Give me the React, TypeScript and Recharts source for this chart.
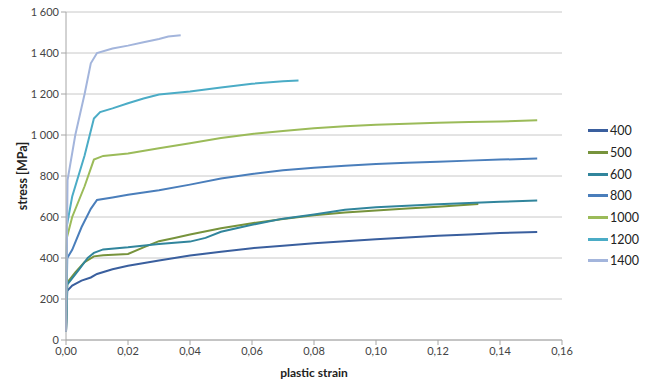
import { LineChart, Line, XAxis, YAxis, CartesianGrid } from 'recharts'

// strain values (x) and stress values in MPa (y) per temperature series
const strain400 = [0, 0.0004, 0.002, 0.005, 0.008, 0.01, 0.015, 0.02, 0.03, 0.04, 0.05, 0.06, 0.07, 0.08, 0.09, 0.1, 0.11, 0.12, 0.13, 0.14, 0.152]
const stress400 = [40, 240, 265, 290, 305, 322, 345, 362, 388, 412, 430, 448, 460, 472, 482, 492, 500, 508, 515, 522, 527]

const strain500 = [0, 0.0004, 0.003, 0.006, 0.009, 0.012, 0.02, 0.025, 0.03, 0.035, 0.04, 0.05, 0.06, 0.07, 0.08, 0.09, 0.1, 0.11, 0.12, 0.133]
const stress500 = [40, 280, 330, 380, 408, 413, 420, 452, 482, 498, 515, 545, 570, 590, 608, 622, 632, 642, 650, 663]

const strain600 = [0, 0.0004, 0.004, 0.007, 0.009, 0.012, 0.02, 0.03, 0.04, 0.045, 0.05, 0.06, 0.07, 0.08, 0.09, 0.1, 0.11, 0.12, 0.13, 0.14, 0.152]
const stress600 = [40, 270, 340, 400, 425, 442, 452, 468, 480, 498, 528, 562, 592, 612, 635, 648, 655, 662, 668, 674, 680]

const strain800 = [0, 0.0004, 0.002, 0.005, 0.008, 0.01, 0.015, 0.02, 0.03, 0.04, 0.05, 0.06, 0.07, 0.08, 0.09, 0.1, 0.11, 0.12, 0.13, 0.14, 0.152]
const stress800 = [40, 400, 440, 550, 640, 683, 695, 708, 730, 758, 788, 810, 828, 840, 850, 858, 865, 870, 875, 880, 885]

const strain1000 = [0, 0.0003, 0.002, 0.006, 0.009, 0.012, 0.02, 0.03, 0.04, 0.05, 0.06, 0.07, 0.08, 0.09, 0.1, 0.11, 0.12, 0.13, 0.14, 0.152]
const stress1000 = [40, 500, 600, 750, 880, 898, 910, 935, 960, 985, 1005, 1020, 1033, 1043, 1050, 1055, 1060, 1063, 1066, 1072]

const strain1200 = [0, 0.0003, 0.002, 0.006, 0.009, 0.011, 0.015, 0.02, 0.025, 0.03, 0.04, 0.05, 0.06, 0.07, 0.075]
const stress1200 = [40, 560, 700, 900, 1080, 1112, 1130, 1155, 1178, 1198, 1212, 1232, 1250, 1262, 1266]

const strain1400 = [0, 0.0005, 0.003, 0.006, 0.008, 0.01, 0.015, 0.02, 0.025, 0.03, 0.033, 0.037]
const stress1400 = [40, 780, 1000, 1200, 1350, 1400, 1422, 1436, 1452, 1468, 1480, 1486]

const seriesNames = ['400', '500', '600', '800', '1000', '1200', '1400']
const seriesColors = ['#3A5F9E', '#77933C', '#31859C', '#4A7EBB', '#9BBB59', '#4BACC6', '#A3B5DC']
const strains = [strain400, strain500, strain600, strain800, strain1000, strain1200, strain1400]
const stresses = [stress400, stress500, stress600, stress800, stress1000, stress1200, stress1400]

const xTicks = [0, 0.02, 0.04, 0.06, 0.08, 0.1, 0.12, 0.14, 0.16]
const yTicks = [0, 200, 400, 600, 800, 1000, 1200, 1400, 1600]

const series = seriesNames.map((name, i) => ({
  name,
  color: seriesColors[i],
  data: strains[i].map((x, j) => ({ x, y: stresses[i][j] })),
}))

const font = 'Lato, "Open Sans", sans-serif'

const fmtX = (v: number) => v.toFixed(2).replace('.', ',')
const fmtY = (v: number) =>
  v >= 1000 ? `${Math.floor(v / 1000)} ${String(v % 1000).padStart(3, '0')}` : String(v)

// rotated y-axis title, centred on the plot height
function YTitle({ viewBox }: any) {
  const cx = 22
  const cy = viewBox.y + viewBox.height / 2
  return (
    <text
      x={cx}
      y={cy}
      transform={`rotate(-90, ${cx}, ${cy})`}
      textAnchor="middle"
      dominantBaseline="central"
      fontSize={12.5}
      fontWeight="bold"
      fill="#222"
      fontFamily={font}
    >
      stress [MPa]
    </text>
  )
}

export default function App() {
  return (
    <div style={{ position: 'absolute', left: 0, top: 0, width: 647, height: 392, background: '#fff' }}>
      <LineChart width={647} height={392} margin={{ top: 12, right: 85, bottom: 22, left: 16 }}>
        <CartesianGrid vertical={false} stroke="#C8C8C8" />
        <XAxis
          type="number"
          dataKey="x"
          domain={[0, 0.16]}
          ticks={xTicks}
          tickFormatter={fmtX}
          height={30}
          stroke="#A6A6A6"
          tickSize={5}
          tick={{ fontSize: 11, fill: '#444', fontFamily: font }}
          label={{ value: 'plastic strain', position: 'insideBottom', offset: -7, fontSize: 12, fontWeight: 'bold', fill: '#222', fontFamily: font }}
        />
        <YAxis
          type="number"
          domain={[0, 1600]}
          ticks={yTicks}
          tickFormatter={fmtY}
          width={50}
          stroke="#A6A6A6"
          tickSize={5}
          tick={{ fontSize: 11, fill: '#444', fontFamily: font }}
          label={<YTitle />}
        />
        {series.map(s => (
          <Line
            key={s.name}
            data={s.data}
            dataKey="y"
            name={s.name}
            type="linear"
            stroke={s.color}
            strokeWidth={2}
            dot={false}
            isAnimationActive={false}
          />
        ))}
      </LineChart>
      <div style={{ position: 'absolute', left: 588, top: 120, fontFamily: font, fontSize: 12.5, color: '#222' }}>
        {series.map(s => (
          <div key={s.name} style={{ display: 'flex', alignItems: 'center', height: 21.7 }}>
            <div style={{ width: 20, height: 3, background: s.color, marginRight: 2 }} />
            <span>{s.name}</span>
          </div>
        ))}
      </div>
    </div>
  )
}
